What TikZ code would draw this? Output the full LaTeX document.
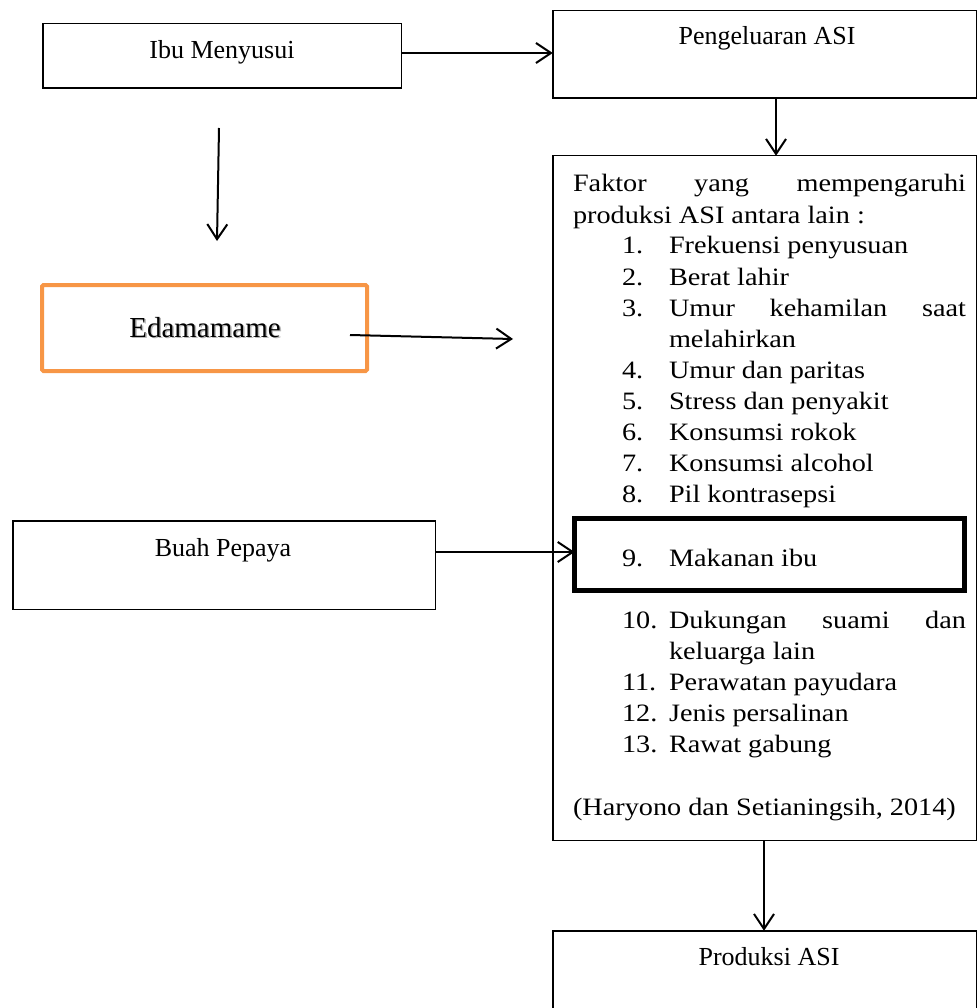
\documentclass[tikz,border=0pt]{standalone}
\usepackage{fontspec}
\setmainfont{Liberation Serif}
\newfontfamily\camb[FakeStretch=1.13]{Liberation Serif}
\usetikzlibrary{arrows.meta}
\definecolor{orng}{HTML}{F79646}
\begin{document}
\begin{tikzpicture}[x=1pt,y=-1pt,
 box/.style={draw=black, line width=1.5pt, inner sep=0pt, outer sep=0pt},
 lbl/.style={inner sep=0pt, outer sep=0pt, anchor=base, font=\fontsize{26}{31}\selectfont},
 ftxt/.style={inner sep=0pt, outer sep=0pt, anchor=base west, font=\camb\fontsize{25}{31}\selectfont},
 arr/.style={line width=2pt, -{Straight Barb[length=15pt,width=20pt,line width=2pt]}}]
\useasboundingbox (0,0) rectangle (979,1008);
\clip (0,0) rectangle (979,1008);
% boxes
\node[box, minimum width=358.5pt, minimum height=64.5pt] (ibu) at (222,56) {};
\node[box, minimum width=423.5pt, minimum height=87.5pt] (peng) at (764.5,54.5) {};
\node[box, draw=orng, line width=4pt, rounded corners=1.5pt, minimum width=325pt, minimum height=86pt] (edam) at (204.5,328) {};
\node[box, minimum width=422.5pt, minimum height=88.5pt] (buah) at (224,565) {};
\node[box, minimum width=423.5pt, minimum height=684.5pt] (faktor) at (764.5,498) {};
\node[box, line width=5pt, minimum width=390pt, minimum height=72pt] (mak) at (769.5,554.5) {};
\node[box, minimum width=423.5pt, minimum height=108.5pt] (prod) at (764.5,985) {};
% box labels
\node[lbl] (tibu) at (222,59) {Ibu Menyusui};
\node[lbl] (tpeng) at (767,45) {Pengeluaran ASI};
\node[lbl, font=\fontsize{29}{34}\selectfont, text=black!35, opacity=0.8] (tedamsh) at (206.5,338.8) {Edamamame};
\node[lbl, font=\fontsize{29}{34}\selectfont] (tedam) at (205,337) {Edamamame};
\node[lbl] (tbuah) at (223,556) {Buah Pepaya};
\node[lbl] (tprod) at (769,965) {Produksi ASI};
% factor list
\node[ftxt] (l0) at (573,192) {\hbox to 393pt{Faktor\hfill yang\hfill mempengaruhi}};
\node[ftxt] (l1) at (573,223) {produksi ASI antara lain :};
\node[ftxt] (n1) at (622,254) {1.};
\node[ftxt] (t1) at (669,254) {Frekuensi penyusuan};
\node[ftxt] (n2) at (622,285) {2.};
\node[ftxt] (t2) at (669,285) {Berat lahir};
\node[ftxt] (n3) at (622,316) {3.};
\node[ftxt] (t3) at (669,316) {\hbox to 297pt{Umur\hfill kehamilan\hfill saat}};
\node[ftxt] (t3b) at (669,347) {melahirkan};
\node[ftxt] (n4) at (622,378) {4.};
\node[ftxt] (t4) at (669,378) {Umur dan paritas};
\node[ftxt] (n5) at (622,409) {5.};
\node[ftxt] (t5) at (669,409) {Stress dan penyakit};
\node[ftxt] (n6) at (622,440) {6.};
\node[ftxt] (t6) at (669,440) {Konsumsi rokok};
\node[ftxt] (n7) at (622,471) {7.};
\node[ftxt] (t7) at (669,471) {Konsumsi alcohol};
\node[ftxt] (n8) at (622,502) {8.};
\node[ftxt] (t8) at (669,502) {Pil kontrasepsi};
\node[ftxt] (n9) at (622,566) {9.};
\node[ftxt] (t9) at (669,566) {Makanan ibu};
\node[ftxt] (n10) at (622,628) {10.};
\node[ftxt] (t10) at (669,628) {\hbox to 297pt{Dukungan\hfill suami\hfill dan}};
\node[ftxt] (t10b) at (669,659) {keluarga lain};
\node[ftxt] (n11) at (622,690) {11.};
\node[ftxt] (t11) at (669,690) {Perawatan payudara};
\node[ftxt] (n12) at (622,721) {12.};
\node[ftxt] (t12) at (669,721) {Jenis persalinan};
\node[ftxt] (n13) at (622,752) {13.};
\node[ftxt] (t13) at (669,752) {Rawat gabung};
\node[ftxt] (src) at (573,815) {(Haryono dan Setianingsih, 2014)};
% connectors
\coordinate (f1) at (219,128);
\coordinate (f2) at (217,241);
\coordinate (e1) at (350,335);
\coordinate (e2) at (513,339);
\draw[arr] ([yshift=3pt]ibu.east) -- ([yshift=3pt]ibu.east -| peng.west);
\draw[arr] ([xshift=11.5pt]peng.south) -- ([xshift=11.5pt]peng.south |- faktor.north);
\draw[arr] (f1) -- (f2);
\draw[arr] (e1) -- (e2);
\draw[arr] ([yshift=13pt]buah.east) -- ([yshift=13pt]buah.east -| mak.west);
\draw[arr] ([xshift=-0.5pt]faktor.south) -- ([xshift=-0.5pt]faktor.south |- prod.north);
\end{tikzpicture}
\end{document}
